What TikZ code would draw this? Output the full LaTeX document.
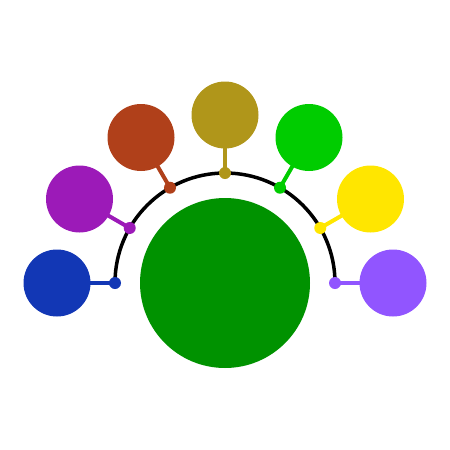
\documentclass[tikz,border=0pt]{standalone}
\usetikzlibrary{calc}
\begin{document}
\begin{tikzpicture}[x=1pt,y=-1pt,
  dot/.style={circle,fill=#1,minimum size=12pt,inner sep=0pt},
  ball/.style={circle,fill=#1,minimum size=67pt,inner sep=0pt},
  link/.style={draw=#1,line width=4pt}]
\useasboundingbox (0,0) rectangle (450,450);
\definecolor{cA}{HTML}{1237B5}
\definecolor{cB}{HTML}{9C1AB8}
\definecolor{cC}{HTML}{B0401A}
\definecolor{cD}{HTML}{B0961A}
\definecolor{cE}{HTML}{00CC00}
\definecolor{cF}{HTML}{FFE600}
\definecolor{cG}{HTML}{9155FF}
\definecolor{cBig}{HTML}{009200}
\coordinate (c) at (225,283);
\node[circle,fill=cBig,minimum size=170pt,inner sep=0pt] (big) at (c) {};
\draw[line width=3.5pt] (115,283) arc[start angle=180,end angle=360,radius=110];
\foreach \i/\a/\col in {1/180/cA,2/150/cB,3/120/cC,4/90/cD,5/60/cE,6/30/cF,7/0/cG}{
  \node[ball=\col] (b\i) at ($(c)+(-\a:168)$) {};
  \node[dot=\col] (d\i) at ($(c)+(-\a:110)$) {};
  \draw[link=\col] (d\i.center) -- (b\i.center);
}
\end{tikzpicture}
\end{document}
